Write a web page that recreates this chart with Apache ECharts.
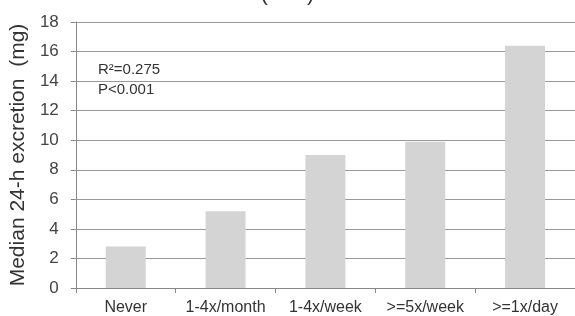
<!DOCTYPE html>
<html>
<head>
<meta charset="utf-8">
<script src="https://cdn.jsdelivr.net/npm/echarts@6/dist/echarts.min.js"></script>
<style>
  html, body { margin: 0; padding: 0; background: #fff; }
  #main { width: 575px; height: 316px; }
</style>
</head>
<body>
<div id="main"></div>
<script>
// frequency groups and median excretion (mg)
var categories = ['Never', '1-4x/month', '1-4x/week', '>=5x/week', '>=1x/day'];
var medians = [2.8, 5.2, 9.0, 9.9, 16.4];
var statLines = ['R²=0.275', 'P<0.001'];

var myChart = echarts.init(document.getElementById('main'));
myChart.setOption({
  animation: false,
  title: {
    text: '(Sun)',
    left: 'center',
    top: -22,
    textStyle: { fontFamily: 'Arial, Liberation Sans', fontSize: 22, fontWeight: 'normal', color: '#333' }
  },
  grid: { left: 72, right: -7, top: 22, bottom: 28 },
  xAxis: {
    type: 'category',
    data: categories,
    axisLine: { lineStyle: { color: '#888', width: 1 } },
    axisTick: { show: true, length: 5, lineStyle: { color: '#888' } },
    axisLabel: { interval: 0, fontFamily: 'Arial, Liberation Sans', fontSize: 16, color: '#333', margin: 12 }
  },
  yAxis: {
    type: 'value',
    min: 0,
    max: 18,
    interval: 2,
    name: 'Median 24-h excretion  (mg)',
    nameLocation: 'middle',
    nameGap: 37,
    nameTextStyle: { fontFamily: 'Arial, Liberation Sans', fontSize: 21, color: '#333' },
    axisLine: { show: true, lineStyle: { color: '#888' } },
    axisTick: { show: true, length: 5, lineStyle: { color: '#888' } },
    axisLabel: { fontFamily: 'Arial, Liberation Sans', fontSize: 17, color: '#444', margin: 17 },
    splitLine: { lineStyle: { color: '#999', width: 1 } }
  },
  graphic: statLines.map(function (t, i) {
    return {
      type: 'text',
      left: 98,
      top: 62 + i * 20,
      style: { text: t, font: '15px Arial, Liberation Sans', fill: '#333' }
    };
  }),
  series: [{
    type: 'bar',
    data: medians,
    barWidth: 40,
    itemStyle: { color: '#d4d4d4' }
  }]
});
</script>
</body>
</html>
